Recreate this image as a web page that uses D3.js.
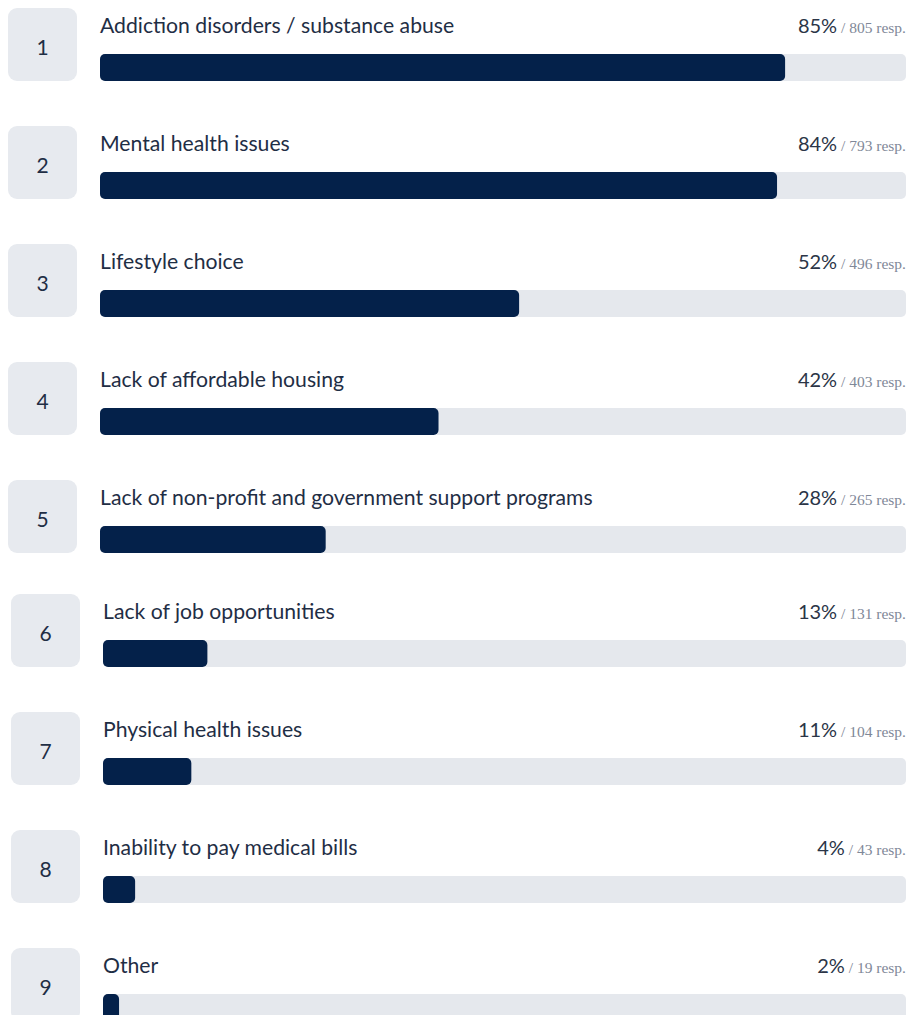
<!DOCTYPE html>
<html>
<head>
<meta charset="utf-8">
<script src="https://cdn.jsdelivr.net/npm/d3@7"></script>
<style>
  body { margin: 0; background: #fff; }
  svg { display: block; }
</style>
</head>
<body>
<div id="chart"></div>
<script>
// chart data
var ranks = [1, 2, 3, 4, 5, 6, 7, 8, 9];
var labels = [
  "Addiction disorders / substance abuse",
  "Mental health issues",
  "Lifestyle choice",
  "Lack of affordable housing",
  "Lack of non-profit and government support programs",
  "Lack of job opportunities",
  "Physical health issues",
  "Inability to pay medical bills",
  "Other"
];
var percents = [85, 84, 52, 42, 28, 13, 11, 4, 2];
var responses = [805, 793, 496, 403, 265, 131, 104, 43, 19];

var w = 907;
var h = 1015;

var svg = d3.select("#chart")
  .append("svg")
  .attr("width", w)
  .attr("height", h);

// rows 6-9 in the picture sit a little further right and higher
function shiftX(i) { return i >= 5 ? 3 : 0; }
function shiftY(i) { return i >= 5 ? -4 : 0; }

var y = d3.scaleBand()
  .domain(ranks)
  .range([0, 118 * ranks.length]);

var rows = svg.selectAll("g.row")
  .data(ranks)
  .enter()
  .append("g")
  .attr("class", "row")
  .attr("transform", function(d, i) {
    return "translate(" + shiftX(i) + "," + (y(d) + shiftY(i)) + ")";
  });

// badge with rank number
rows.append("rect")
  .attr("x", 8)
  .attr("y", 8)
  .attr("width", 69)
  .attr("height", 73)
  .attr("rx", 9)
  .style("fill", "#e7eaef");

rows.append("text")
  .attr("x", 42.5)
  .attr("y", 55)
  .attr("text-anchor", "middle")
  .style("font-family", "Lato, 'Noto Sans', sans-serif")
  .style("font-size", "21px")
  .style("fill", "#1f2e45")
  .text(function(d) { return d; });

// label
rows.append("text")
  .attr("x", 100)
  .attr("y", 33)
  .style("font-family", "Lato, 'Noto Sans', sans-serif")
  .style("font-size", "21.2px")
  .style("fill", "#1f2e45")
  .text(function(d, i) { return labels[i]; });

// value text
var val = rows.append("text")
  .attr("x", function(d, i) { return 906 - shiftX(i); })
  .attr("y", 33)
  .attr("text-anchor", "end");

val.append("tspan")
  .style("font-family", "Lato, 'Noto Sans', sans-serif")
  .style("font-size", "20px")
  .style("fill", "#2b3547")
  .text(function(d, i) { return percents[i] + "%"; });

val.append("tspan")
  .style("font-family", "'Liberation Serif', serif")
  .style("font-size", "15.5px")
  .style("fill", "#7f8898")
  .text(function(d, i) { return " / " + responses[i] + " resp."; });

// bars
var x = d3.scaleLinear().domain([0, 100]);

rows.append("rect")
  .attr("x", 100)
  .attr("y", 54)
  .attr("width", function(d, i) { return 806 - shiftX(i); })
  .attr("height", 27)
  .attr("rx", 5)
  .style("fill", "#e5e8ed");

rows.append("rect")
  .attr("x", 100)
  .attr("y", 54)
  .attr("width", function(d, i) {
    x.range([0, 806 - shiftX(i)]);
    return x(percents[i]);
  })
  .attr("height", 27)
  .attr("rx", 5)
  .style("fill", "#04214a");
</script>
</body>
</html>
